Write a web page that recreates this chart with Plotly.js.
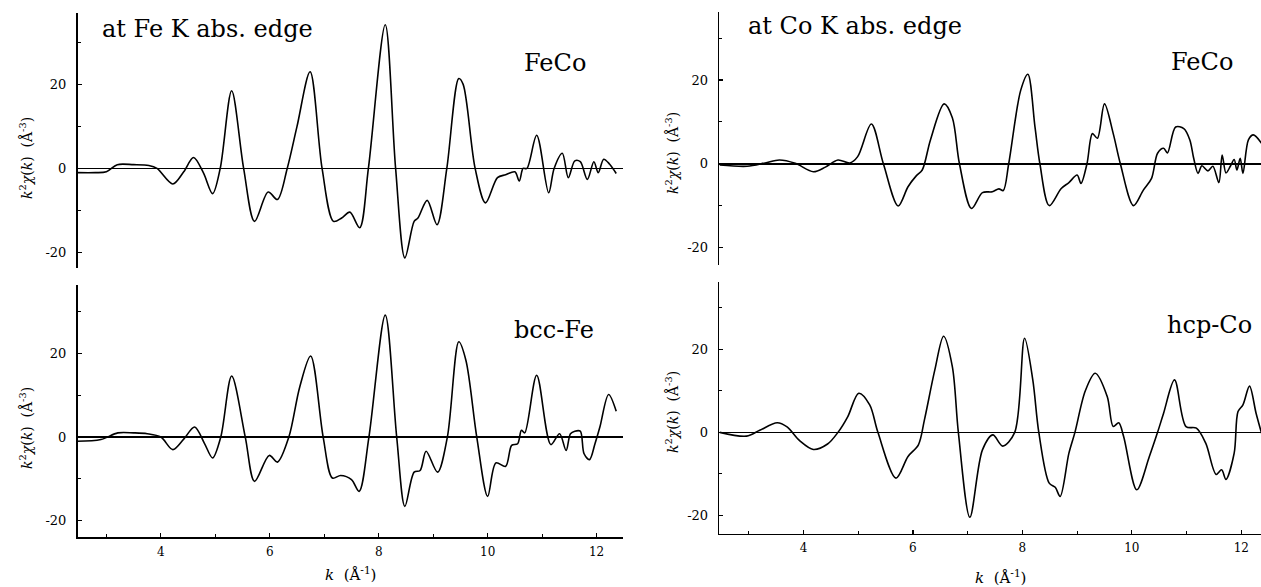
<!DOCTYPE html>
<html>
<head>
<meta charset="utf-8">
<script src="https://cdn.plot.ly/plotly-3.0.1.min.js"></script>
<style>html,body{margin:0;padding:0;background:#fff;}#chart{width:1261px;height:587px;}</style>
</head>
<body>
<div id="chart"></div>
<script>
// Fe K edge, FeCo
const kFeFeCo = [2.46, 2.8, 3.0, 3.2, 3.5, 3.78, 3.93, 4.22, 4.42, 4.6, 4.78, 4.95, 5.09, 5.30, 5.52, 5.72, 5.97, 6.14, 6.32, 6.5, 6.74, 6.96, 7.17, 7.32, 7.47, 7.65, 7.81, 8.12, 8.31, 8.48, 8.65, 8.72, 8.89, 9.07, 9.25, 9.47, 9.55, 9.77, 9.96, 10.18, 10.33, 10.5, 10.58, 10.65, 10.72, 10.9, 11.12, 11.22, 11.37, 11.48, 11.6, 11.7, 11.83, 11.95, 12.03, 12.13, 12.24, 12.36];
const vFeFeCo = [-1.0, -1.0, -0.8, 0.9, 0.9, 0.7, 0, -3.7, -0.8, 2.6, -1, -6, 0, 18.5, 0, -12.6, -5.6, -7.4, 0, 10, 23, 0, -12.6, -11.8, -10.4, -14.1, 0, 34.2, 0, -21.3, -12.6, -11.8, -7.6, -13.4, 0, 21.4, 20, 0, -8.2, -2.2, -1.5, -0.8, -3, 0, 0, 7.9, -5.8, 0, 3.6, -2.2, 1.8, 1.6, -2.6, 1.6, -1, 2.2, 1, -1.2];
// Fe K edge, bcc-Fe
const kBccFe = [2.46, 2.9, 3.21, 3.5, 3.75, 4.0, 4.22, 4.42, 4.62, 4.8, 4.95, 5.1, 5.30, 5.55, 5.72, 5.99, 6.14, 6.35, 6.55, 6.75, 6.98, 7.15, 7.3, 7.5, 7.64, 7.82, 8.12, 8.33, 8.48, 8.65, 8.76, 8.87, 9.08, 9.26, 9.47, 9.6, 9.8, 10.0, 10.15, 10.33, 10.44, 10.55, 10.62, 10.68, 10.9, 11.16, 11.32, 11.44, 11.52, 11.6, 11.7, 11.77, 11.87, 11.97, 12.06, 12.22, 12.36];
const vBccFe = [-1.0, -0.6, 1.0, 1.0, 0.8, 0, -3.0, -0.5, 2.4, -1.5, -5.0, 0, 14.6, 0, -10.6, -4.4, -6.0, 0, 12, 19.4, 0, -9.8, -9.2, -10.2, -13, 0, 29.2, 0, -16.6, -8.4, -8.0, -3.4, -8.4, 0, 22.8, 18.4, 0, -14.2, -6.2, -7.0, -2.0, -1.6, 1.6, 1.0, 14.8, -1.8, 0.8, -3.2, 0.8, 1.4, 1.4, -4.0, -5.4, -1.6, 2.4, 10.2, 6.2];
// Co K edge, FeCo
const kCoFeCo = [2.47, 2.97, 3.3, 3.56, 3.85, 4.18, 4.4, 4.63, 4.85, 4.99, 5.24, 5.46, 5.73, 5.91, 6.06, 6.17, 6.32, 6.57, 6.72, 6.85, 7.07, 7.27, 7.45, 7.57, 7.65, 7.75, 7.97, 8.10, 8.23, 8.32, 8.49, 8.71, 8.85, 9.0, 9.07, 9.18, 9.28, 9.37, 9.5, 9.66, 9.79, 10.03, 10.21, 10.36, 10.47, 10.58, 10.65, 10.80, 10.95, 11.06, 11.13, 11.21, 11.28, 11.39, 11.48, 11.59, 11.65, 11.72, 11.8, 11.87, 11.92, 11.98, 12.03, 12.13, 12.22, 12.37];
const vCoFeCo = [-0.3, -0.6, 0.2, 0.9, 0.1, -1.9, -0.8, 0.9, 0.2, 1.7, 9.5, 0, -10.1, -5.5, -2.9, -1.5, 5.7, 14.3, 11, 0, -10.7, -6.9, -6.7, -6.0, -6.4, 0, 17.6, 21.4, 8.8, 0, -10, -5.9, -4.5, -2.7, -4.7, 0, 7.2, 6.1, 14.3, 7.2, 0, -10, -6.3, -3.5, 2.5, 3.7, 2.6, 8.8, 8.4, 5.7, 1.3, -2.3, -0.5, -1.7, -0.6, -4.5, 2.1, -2.2, -0.6, 1.0, -1.5, 1.3, -2.3, 5.7, 6.9, 4.9];
// Co K edge, hcp-Co
const kHcpCo = [2.47, 2.96, 3.2, 3.52, 3.7, 3.93, 4.18, 4.44, 4.63, 4.81, 5.01, 5.21, 5.36, 5.69, 5.91, 6.10, 6.21, 6.4, 6.56, 6.72, 6.83, 7.04, 7.27, 7.46, 7.64, 7.86, 8.04, 8.19, 8.30, 8.49, 8.60, 8.69, 8.85, 8.96, 9.15, 9.33, 9.55, 9.66, 9.76, 9.85, 10.09, 10.32, 10.47, 10.58, 10.78, 10.99, 11.18, 11.35, 11.54, 11.64, 11.72, 11.87, 11.94, 12.03, 12.15, 12.27, 12.37];
const vHcpCo = [0, -0.9, 0.5, 2.3, 1.3, -2.0, -4.1, -2.8, 0, 3.8, 9.4, 6.6, 0, -11, -5.8, -3.0, 3, 15, 23.1, 15.8, 0, -20.4, -4.2, -0.6, -3.3, 0, 22.6, 12.6, 0, -12.2, -13.2, -15.4, -5, 0, 10, 14.2, 8.6, 1.4, 2.3, -1, -13.8, -5.8, 0, 4.6, 12.6, 1.4, 1.0, -2.6, -10.1, -9.0, -11.3, -5, 5, 6.6, 11.1, 4.6, -0.2];

const xTickVals = [4, 6, 8, 10, 12];
const xTickText = ['4', '6', '8', '10', '12'];
const yTickVals = [-20, 0, 20];
const yTickText = ['-20', '0', '20'];

const W = 1261, H = 587;
const px = v => v / W;
const py = v => 1 - v / H;

const line = {color: '#000', width: 1.6, shape: 'spline', smoothing: 0.9};
const traces = [
  {x: kFeFeCo, y: vFeFeCo, xaxis: 'x', yaxis: 'y', mode: 'lines', line: line},
  {x: kBccFe, y: vBccFe, xaxis: 'x2', yaxis: 'y2', mode: 'lines', line: line},
  {x: kCoFeCo, y: vCoFeCo, xaxis: 'x3', yaxis: 'y3', mode: 'lines', line: line},
  {x: kHcpCo, y: vHcpCo, xaxis: 'x4', yaxis: 'y4', mode: 'lines', line: line}
];

const serif = 'DejaVu Serif';
function xAxis(domain, range, anchor, shown) {
  const ax = {
    domain: domain, range: range, anchor: anchor,
    showgrid: false, zeroline: false,
    showline: shown, linecolor: '#000', linewidth: 1.5,
    ticks: shown ? 'inside' : '', ticklen: 4, tickwidth: 1.2, tickcolor: '#000',
    tickvals: xTickVals, ticktext: xTickText, showticklabels: shown,
    tickfont: {family: serif, size: 12, color: '#000'},
    ticklabelstandoff: 3
  };
  if (shown) ax.minor = {dtick: 1, tick0: 0, ticks: 'inside', ticklen: 3, tickcolor: '#000', tickwidth: 1};
  return ax;
}
function yAxis(domain, range, anchor) {
  return {
    domain: domain, range: range, anchor: anchor,
    showgrid: false,
    zeroline: true, zerolinecolor: '#000', zerolinewidth: 1.6,
    showline: true, linecolor: '#000', linewidth: 1.5,
    ticks: 'inside', ticklen: 4, tickwidth: 1.2, tickcolor: '#000',
    tickvals: yTickVals, ticktext: yTickText,
    tickfont: {family: serif, size: 13, color: '#000'},
    ticklabelstandoff: 7,
    minor: {dtick: 10, tick0: 0, ticks: 'inside', ticklen: 3, tickcolor: '#000', tickwidth: 1}
  };
}

const layout = {
  width: W, height: H,
  margin: {l: 0, r: 0, t: 0, b: 0},
  paper_bgcolor: '#fff', plot_bgcolor: '#fff',
  font: {family: serif, color: '#000'},
  showlegend: false,
  xaxis: xAxis([px(77.5), px(623.3)], [2.47, 12.49], 'y', false),
  yaxis: yAxis([py(268), py(13)], [-23.7, 37.0], 'x'),
  xaxis2: xAxis([px(77.5), px(623.3)], [2.47, 12.49], 'y2', true),
  yaxis2: yAxis([py(537.3), py(285)], [-24.0, 36.4], 'x2'),
  xaxis3: xAxis([px(719.2), 1], [2.46, 12.36], 'y3', false),
  yaxis3: yAxis([py(265), py(12.3)], [-24.2, 36.2], 'x3'),
  xaxis4: xAxis([px(719.2), 1], [2.46, 12.36], 'y4', true),
  yaxis4: yAxis([py(533.5), py(281.7)], [-24.3, 36.2], 'x4'),
  annotations: []
};

function label(text, x, y, size, xanchor, angle) {
  layout.annotations.push({
    text: text, xref: 'paper', yref: 'paper', x: px(x), y: py(y),
    xanchor: xanchor || 'left', yanchor: 'middle', showarrow: false,
    textangle: angle || 0,
    font: {family: serif, size: size, color: '#000'}
  });
}
label('at Fe K abs. edge', 100, 29, 24);
label('FeCo', 522, 63, 24);
label('bcc-Fe', 512, 330, 24);
label('at Co K abs. edge', 746, 26, 24);
label('FeCo', 1169, 62, 24);
label('hcp-Co', 1165, 325, 24);

const yTitle = '<i>k</i><sup>2</sup><i>χ</i>(<i>k</i>)  (Å<sup>-3</sup>)';
label(yTitle, 26, 158, 14, 'center', -90);
label(yTitle, 26, 428, 14, 'center', -90);
label(yTitle, 672, 153, 14, 'center', -90);
label(yTitle, 672, 412, 14, 'center', -90);
const xTitle = '<i>k</i>  (Å<sup>-1</sup>)';
label(xTitle, 350, 574, 15, 'center');
label(xTitle, 1000, 577, 15, 'center');

Plotly.newPlot('chart', traces, layout, {displayModeBar: false, staticPlot: true});
</script>
</body>
</html>
